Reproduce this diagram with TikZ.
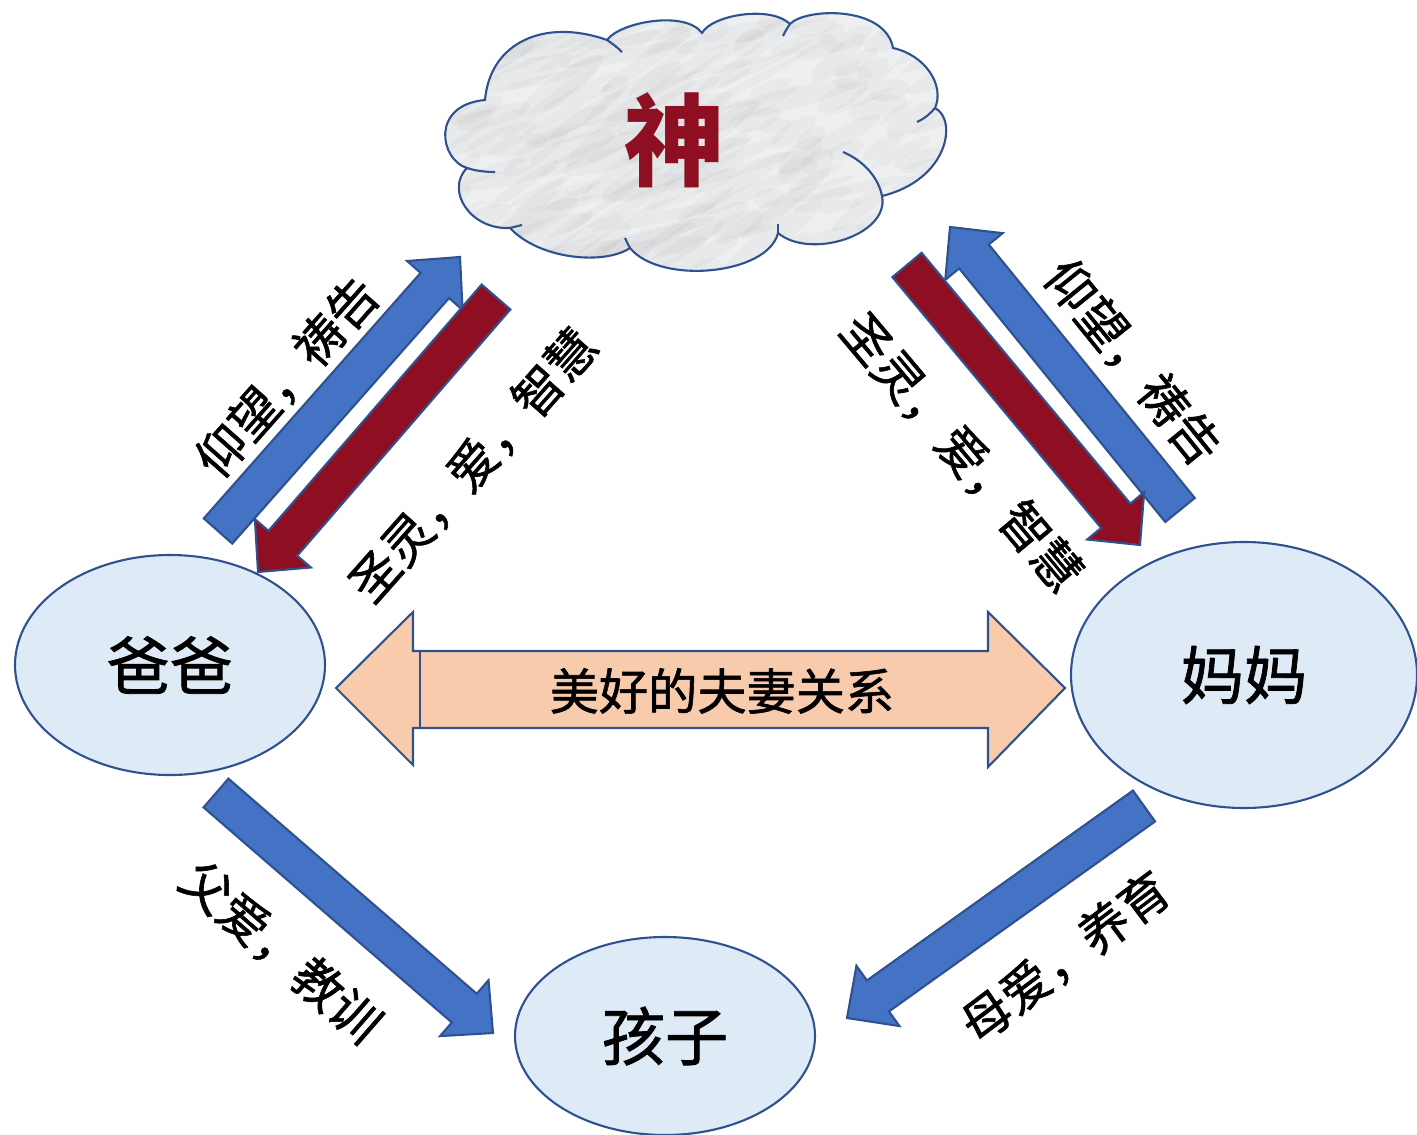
\documentclass[tikz,border=0pt]{standalone}
\usepackage{fontspec}
\newfontfamily\cjk{Noto Sans CJK SC}[FakeBold=1.2]
\newfontfamily\cjkb{Noto Sans CJK SC}
\usetikzlibrary{calc,shapes.geometric}

\definecolor{borde}{HTML}{2F528F}
\definecolor{azul}{HTML}{4472C4}
\definecolor{rojo}{HTML}{8E0F22}
\definecolor{celeste}{HTML}{DEEBF7}
\definecolor{durazno}{HTML}{F8CBAD}
\definecolor{nubegris}{HTML}{EDEFF0}

% flecha gruesa: color, inicio, punta
\newcommand{\flecha}[3]{%
	\coordinate (f-h) at ($(#3)!3.8mm!(#2)$);
	\draw[borde,line width=.6pt,fill=#1] ($(#2)!1.9mm!90:(#3)$) -- ($(f-h)!1.9mm!-90:(#2)$) -- ($(f-h)!3.7mm!-90:(#2)$) -- (#3) -- ($(f-h)!3.7mm!90:(#2)$) -- ($(f-h)!1.9mm!90:(#2)$) -- ($(#2)!1.9mm!-90:(#3)$) -- cycle;
}

\tikzset{
	persona/.style={ellipse, draw=borde, line width=.6pt, fill=celeste, font=\cjk\fontsize{18}{20}\selectfont},
	etiqueta/.style={font=\cjk\fontsize{14}{16}\selectfont, inner sep=0pt},
	marmol/.style={fill=nubegris,
		path picture={\foreach \i in {1,...,200}{\pgfmathsetseed{\i*37+11}\pgfmathsetmacro{\rx}{rand*26}\pgfmathsetmacro{\ry}{rand*13}\pgfmathsetmacro{\rl}{1.5+rnd*5}\pgfmathsetmacro{\rw}{.3+rnd*.9}\pgfmathsetmacro{\ra}{10+rnd*30}\fill[black!50,opacity=.05,shift={($(path picture bounding box.center)+(\rx mm,\ry mm)$)},rotate=\ra] (0,0) ellipse [x radius=\rl mm, y radius=\rw mm];}}},
}

\begin{document}
\begin{tikzpicture}[x=0.1mm,y=-0.1mm]
	\useasboundingbox (0,0) rectangle (1417,1134);

	% Nube
	\draw[borde, line width=.6pt, marmol] (485,100) .. controls (490,42) and (545,18) .. (607,40)
		.. controls (620,22) and (685,10) .. (702,33)
		.. controls (712,15) and (770,5) .. (790,24)
		.. controls (805,8) and (885,5) .. (893,48)
		.. controls (925,55) and (945,85) .. (935,108)
		.. controls (958,120) and (948,180) .. (882,196)
		.. controls (890,235) and (810,260) .. (778,233)
		.. controls (768,275) and (660,285) .. (630,248)
		.. controls (605,265) and (540,260) .. (510,228)
		.. controls (470,230) and (445,190) .. (467,168)
		.. controls (440,160) and (430,105) .. cycle;
	\draw[borde, line width=.6pt] (607,40) .. controls (613,44) and (618,48) .. (622,52);
	\draw[borde, line width=.6pt] (790,24) .. controls (787,28) and (785,32) .. (783,36);
	\draw[borde, line width=.6pt] (935,108) .. controls (930,114) and (924,119) .. (917,122);
	\draw[borde, line width=.6pt] (843,152) .. controls (862,160) and (878,176) .. (882,196);
	\draw[borde, line width=.6pt] (778,233) .. controls (778,230) and (778,228) .. (778,224);
	\draw[borde, line width=.6pt] (630,248) .. controls (628,245) and (627,242) .. (625,238);
	\draw[borde, line width=.6pt] (510,228) .. controls (514,227) and (518,226) .. (522,225);
	\draw[borde, line width=.6pt] (467,168) .. controls (476,171) and (486,172) .. (495,172);
	\node[font=\cjkb\bfseries\fontsize{28.5}{30}\selectfont, text=rojo] (shen) at (675,140) {神};

	% Personas
	\node[persona, minimum width=31mm, minimum height=22mm] (baba) at (170,665) {爸爸};
	\node[persona, minimum width=34.6mm, minimum height=26.6mm] (mama) at (1244,675) {妈妈};
	\node[persona, minimum width=30mm, minimum height=19.8mm] (haizi) at (665,1036) {孩子};

	% Flechas
	\coordinate (ba-sube) at (218,531); \coordinate (ba-cielo) at (460,257);
	\coordinate (ba-baja) at (496,297); \coordinate (ba-tierra) at (258,572);
	\coordinate (ma-sube) at (1180,510); \coordinate (ma-cielo) at (950,227);
	\coordinate (ma-baja) at (907,265); \coordinate (ma-tierra) at (1140,545);
	\coordinate (ba-hijo) at (216,793); \coordinate (hijo-ba) at (493,1033);
	\coordinate (ma-hijo) at (1144,806); \coordinate (hijo-ma) at (847,1018);

	\flecha{azul}{ba-sube}{ba-cielo}
	\flecha{rojo}{ba-baja}{ba-tierra}
	\flecha{azul}{ma-sube}{ma-cielo}
	\flecha{rojo}{ma-baja}{ma-tierra}
	\flecha{azul}{ba-hijo}{hijo-ba}
	\flecha{azul}{ma-hijo}{hijo-ma}

	% Relacion
	\draw[borde, line width=.6pt, fill=durazno] (336,688) -- (413,612) -- (413,651) -- (988,651) -- (988,612) -- (1065,688) -- (988,767) -- (988,728) -- (413,728) -- (413,765) -- cycle;
	\draw[borde, line width=.6pt] (420,651) -- (420,728);
	\node[etiqueta] (pareja) at (722,691) {美好的夫妻关系};

	% Etiquetas
	\node[etiqueta, rotate=48.5] (l-ba-sube) at (287,377) {仰望，祷告};
	\node[etiqueta, rotate=48.5] (l-ba-baja) at (473,465) {圣灵，爱，智慧};
	\node[etiqueta, rotate=-51] (l-ma-sube) at (1133,362) {仰望，祷告};
	\node[etiqueta, rotate=-50] (l-ma-baja) at (962,452) {圣灵，爱，智慧};
	\node[etiqueta, rotate=-41] (l-ba-hijo) at (281,952) {父爱，教训};
	\node[etiqueta, rotate=37] (l-ma-hijo) at (1065,957) {母爱，养育};
\end{tikzpicture}
\end{document}
